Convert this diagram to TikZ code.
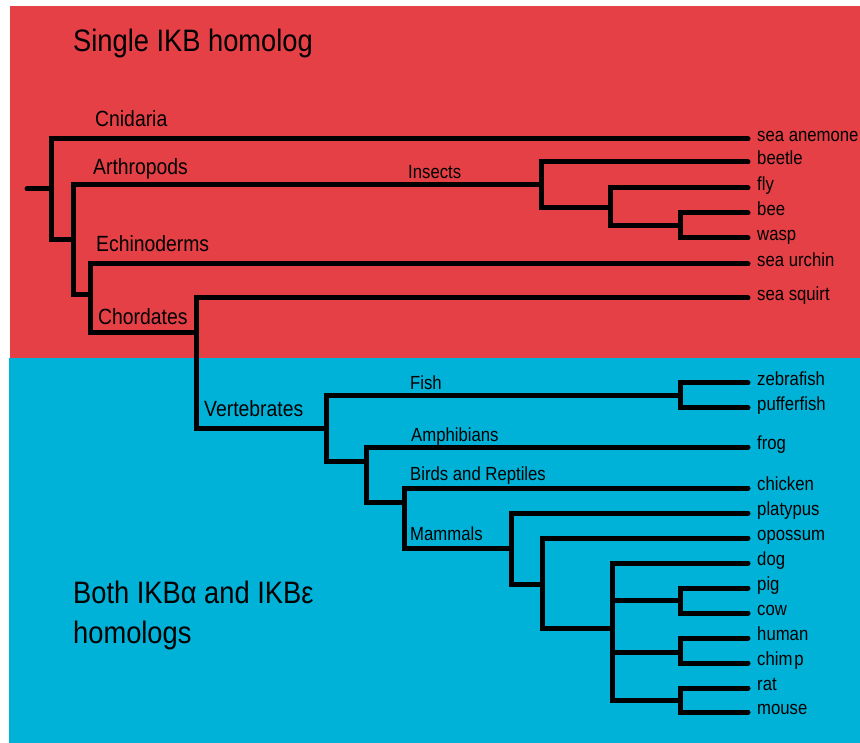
\documentclass[tikz,border=0pt]{standalone}
\usepackage{fontspec}
\setmainfont{Liberation Sans}[FakeStretch=0.88]
\usetikzlibrary{positioning}
\definecolor{ikbred}{RGB}{228,64,69}
\definecolor{ikbblue}{RGB}{0,178,216}
\tikzset{
  branch/.style={line width=5pt, line cap=round},
  leaf/.style={anchor=mid west, inner xsep=9pt, inner ysep=0pt, font=\fontsize{19}{22}\selectfont},
  clade/.style={anchor=base west, inner sep=0pt, font=\fontsize{19}{22}\selectfont},
  bigclade/.style={clade, font=\fontsize{22}{26}\selectfont},
  heading/.style={anchor=base west, inner sep=0pt, align=left, font=\fontsize{31}{40}\selectfont}
}
\begin{document}
\begin{tikzpicture}[x=1pt,y=-1pt]
\useasboundingbox (0,0) rectangle (860,743);
% background halves
\fill[ikbred] (10,6) rectangle (860,358);
\fill[ikbblue] (9,358) rectangle (860,743);
% headings
\node[heading] (single) at (73,52) {Single IKB homolog};
\node[heading] (both) at (73,643) {Both IKBα and IKBε\\homologs};
% branch points
\coordinate (root) at (27,189);
\coordinate (n1) at (51,189);
\coordinate (n2) at (73,240);
\coordinate (n3) at (90,295);
\coordinate (chord) at (196,333);
\coordinate (vert) at (326,428);
\coordinate (fishpt) at (680,396);
\coordinate (n6) at (366,461);
\coordinate (n7) at (404,502);
\coordinate (mamm) at (511,548);
\coordinate (n9) at (542,584);
\coordinate (plac) at (612,628);
\coordinate (pigcow) at (680,600);
\coordinate (homo) at (680,652);
\coordinate (rod) at (680,700);
\coordinate (ins) at (541,185);
\coordinate (ins2) at (610,208);
\coordinate (ins3) at (680,226);
% leaves
\node[leaf] (anemone) at (748,139) {sea anemone};
\node[leaf] (beetle) at (748,162) {beetle};
\node[leaf] (fly) at (748,188) {fly};
\node[leaf] (bee) at (748,213) {bee};
\node[leaf] (wasp) at (748,238) {wasp};
\node[leaf] (urchin) at (748,264) {sea urchin};
\node[leaf] (squirt) at (748,298) {sea squirt};
\node[leaf] (zebra) at (748,383) {zebrafish};
\node[leaf] (puffer) at (748,408) {pufferfish};
\node[leaf] (frog) at (748,447) {frog};
\node[leaf] (chicken) at (748,488) {chicken};
\node[leaf] (platypus) at (748,513) {platypus};
\node[leaf] (opossum) at (748,538) {opossum};
\node[leaf] (dog) at (748,563) {dog};
\node[leaf] (pig) at (748,588) {pig};
\node[leaf] (cow) at (748,613) {cow};
\node[leaf] (human) at (748,638) {human};
\node[leaf] (chimp) at (748,663) {chim\kern2pt p};
\node[leaf] (rat) at (748,688) {rat};
\node[leaf] (mouse) at (748,712) {mouse};
% clade names
\node[bigclade] (cnid) at (95,127) {Cnidaria};
\node[bigclade] (arth) at (93,175) {Arthropods};
\node[bigclade] (echi) at (96,252) {Echinoderms};
\node[bigclade] (chor) at (98,325) {Chordates};
\node[clade] (inse) at (408,179) {Insects};
\node[bigclade] (vrtb) at (204,417) {Vertebrates};
\node[clade] (fish) at (410,390) {Fish};
\node[clade] (amph) at (411,441) {Amphibians};
\node[clade] (bird) at (410,480) {Birds and Reptiles};
\node[clade] (mmls) at (410,540) {Mammals};
% tree
\draw[branch]
(root) -- (n1)
(n1) |- (anemone.mid west)
(n1) |- (n2)
(n2) |- (ins)
(n2) |- (n3)
(ins) |- (beetle.mid west)
(ins) |- (ins2)
(ins2) |- (fly.mid west)
(ins2) |- (ins3)
(ins3) |- (bee.mid west)
(ins3) |- (wasp.mid west)
(n3) |- (urchin.mid west)
(n3) |- (chord)
(chord) |- (squirt.mid west)
(chord) |- (vert)
(vert) |- (fishpt)
(vert) |- (n6)
(fishpt) |- (zebra.mid west)
(fishpt) |- (puffer.mid west)
(n6) |- (frog.mid west)
(n6) |- (n7)
(n7) |- (chicken.mid west)
(n7) |- (mamm)
(mamm) |- (platypus.mid west)
(mamm) |- (n9)
(n9) |- (opossum.mid west)
(n9) |- (plac)
(plac) |- (dog.mid west)
(plac) |- (pigcow)
(plac) |- (homo)
(plac) |- (rod)
(pigcow) |- (pig.mid west)
(pigcow) |- (cow.mid west)
(homo) |- (human.mid west)
(homo) |- (chimp.mid west)
(rod) |- (rat.mid west)
(rod) |- (mouse.mid west);
\end{tikzpicture}
\end{document}
